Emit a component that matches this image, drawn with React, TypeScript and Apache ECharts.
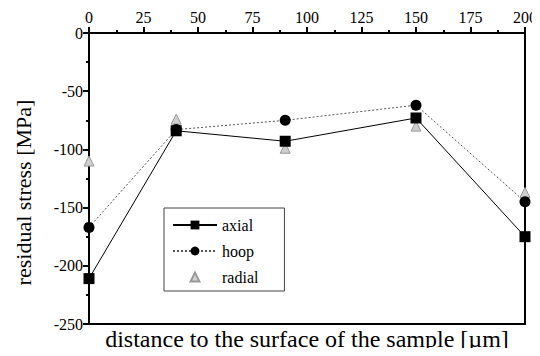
import React, { useEffect, useRef } from "react";
import * as echarts from "echarts";

const xTicks = [0, 25, 50, 75, 100, 125, 150, 175, 200];
const depths = [0, 40, 90, 150, 200];
const axial = [-211, -84, -93, -73, -175];
const hoop = [-167, -83, -75, -62, -145];
const radial = [-110, -74, -99, -80, -137];

const FONT = "Liberation Serif";

export default function App() {
  const ref = useRef<HTMLDivElement>(null);
  useEffect(() => {
    if (!ref.current) return;
    const chart = echarts.init(ref.current, null, { renderer: "svg" });
    const pair = (arr: number[]) => depths.map((d, i) => [d, arr[i]]);
    chart.setOption({
      animation: false,
      backgroundColor: "#fff",
      textStyle: { fontFamily: FONT },
      grid: { left: 89, right: 14, top: 33, bottom: 29, containLabel: false },
      legend: {
        orient: "vertical",
        left: 164,
        top: 208,
        borderColor: "#444",
        borderWidth: 1,
        padding: [8, 26, 5, 8],
        itemGap: 8,
        itemWidth: 44,
        itemHeight: 11,
        textStyle: { fontFamily: FONT, fontSize: 16, color: "#000", lineHeight: 18 },
        data: ["axial", "hoop", "radial"],
      },
      xAxis: [
        {
          type: "value",
          position: "top",
          min: 0,
          max: 200,
          interval: 25,
          axisLine: { show: true, lineStyle: { color: "#000", width: 2 } },
          axisTick: { show: true, inside: false, length: 6, lineStyle: { color: "#000", width: 2 } },
          minorTick: { show: true, splitNumber: 2, length: 3, lineStyle: { color: "#000", width: 2 } },
          axisLabel: {
            margin: 8,
            fontFamily: FONT,
            fontSize: 16,
            color: "#000",
            formatter: (v: number) => (xTicks.includes(v) ? String(v) : ""),
          },
          splitLine: { show: false },
        },
        {
          type: "value",
          position: "bottom",
          min: 0,
          max: 200,
          axisLine: { show: true, onZero: false, lineStyle: { color: "#000", width: 2 } },
          axisTick: { show: false },
          axisLabel: { show: false },
          splitLine: { show: false },
          name: "distance to the surface of the sample [\u00b5m]",
          nameLocation: "middle",
          nameGap: 3,
          nameTextStyle: { fontFamily: FONT, fontSize: 24, color: "#000", verticalAlign: "top" },
        },
      ],
      yAxis: [
        {
          type: "value",
          position: "left",
          min: -250,
          max: 0,
          interval: 50,
          axisLine: { show: true, onZero: false, lineStyle: { color: "#000", width: 2 } },
          axisTick: { show: true, inside: false, length: 6, lineStyle: { color: "#000", width: 2 } },
          minorTick: { show: true, splitNumber: 2, length: 3, lineStyle: { color: "#000", width: 2 } },
          axisLabel: { margin: 6, fontFamily: FONT, fontSize: 16, color: "#000" },
          splitLine: { show: false },
          name: "residual stress [MPa]",
          nameLocation: "middle",
          nameRotate: 90,
          nameGap: 55,
          nameTextStyle: { fontFamily: FONT, fontSize: 22, color: "#000", padding: [0, 28, 0, 0] },
        },
        {
          type: "value",
          position: "right",
          min: -250,
          max: 0,
          axisLine: { show: true, onZero: false, lineStyle: { color: "#000", width: 2 } },
          axisTick: { show: false },
          axisLabel: { show: false },
          splitLine: { show: false },
        },
      ],
      series: [
        {
          name: "hoop",
          type: "line",
          data: pair(hoop),
          symbol: "circle",
          symbolSize: 11,
          itemStyle: { color: "#000" },
          lineStyle: { color: "#555", width: 1, type: [2, 2] },
          z: 3,
        },
        {
          name: "axial",
          type: "line",
          data: pair(axial),
          symbol: "rect",
          symbolSize: 11,
          itemStyle: { color: "#000" },
          lineStyle: { color: "#000", width: 1, type: "solid" },
          z: 4,
        },
        {
          name: "radial",
          type: "line",
          data: pair(radial),
          symbol: "triangle",
          symbolSize: 10,
          itemStyle: { color: "#cfcfcf", borderColor: "#999", borderWidth: 1 },
          lineStyle: { opacity: 0, width: 0 },
          z: 2,
        },
      ],
    });
    return () => chart.dispose();
  }, []);
  return <div ref={ref} style={{ width: 540, height: 356, margin: -8 }} />;
}
